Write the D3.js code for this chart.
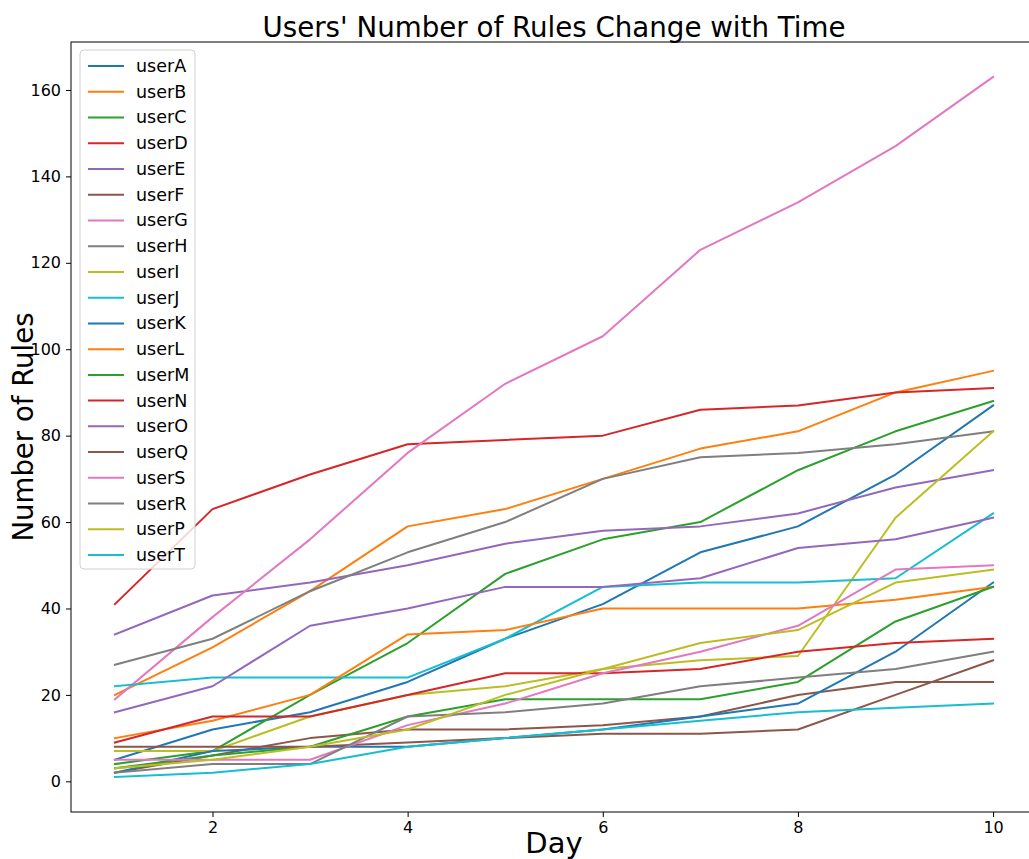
<!DOCTYPE html>
<html>
<head>
<meta charset="utf-8">
<script src="https://cdn.jsdelivr.net/npm/d3@7"></script>
<style>
  html, body { margin: 0; padding: 0; background: #fff; }
  svg { display: block; font-family: "DejaVu Sans", sans-serif; }
</style>
</head>
<body>
<svg id="chart" width="1029" height="859"></svg>
<script>
// ---- data ----
const days = [1, 2, 3, 4, 5, 6, 7, 8, 9, 10];
const userNames = ["userA","userB","userC","userD","userE","userF","userG","userH","userI","userJ",
                   "userK","userL","userM","userN","userO","userQ","userS","userR","userP","userT"];
const userA = [5, 12, 16, 23, 33, 41, 53, 59, 71, 87];
const userB = [20, 31, 44, 59, 63, 70, 77, 81, 90, 95];
const userC = [4, 7, 20, 32, 48, 56, 60, 72, 81, 88];
const userD = [41, 63, 71, 78, 79, 80, 86, 87, 90, 91];
const userE = [34, 43, 46, 50, 55, 58, 59, 62, 68, 72];
const userF = [2, 6, 10, 12, 12, 13, 15, 20, 23, 23];
const userG = [19, 38, 56, 76, 92, 103, 123, 134, 147, 163];
const userH = [27, 33, 44, 53, 60, 70, 75, 76, 78, 81];
const userI = [7, 7, 15, 20, 22, 26, 28, 29, 61, 81];
const userJ = [22, 24, 24, 24, 33, 45, 46, 46, 47, 62];
const userK = [2, 7, 8, 8, 10, 12, 15, 18, 30, 46];
const userL = [10, 14, 20, 34, 35, 40, 40, 40, 42, 45];
const userM = [3, 6, 8, 15, 19, 19, 19, 23, 37, 45];
const userN = [9, 15, 15, 20, 25, 25, 26, 30, 32, 33];
const userO = [16, 22, 36, 40, 45, 45, 47, 54, 56, 61];
const userQ = [8, 8, 8, 9, 10, 11, 11, 12, 20, 28];
const userS = [5, 5, 5, 13, 18, 25, 30, 36, 49, 50];
const userR = [2, 4, 4, 15, 16, 18, 22, 24, 26, 30];
const userP = [3, 5, 8, 12, 20, 26, 32, 35, 46, 49];
const userT = [1, 2, 4, 8, 10, 12, 14, 16, 17, 18];
const seriesValues = [userA,userB,userC,userD,userE,userF,userG,userH,userI,userJ,
                      userK,userL,userM,userN,userO,userQ,userS,userR,userP,userT];
const xTicks = [2, 4, 6, 8, 10];
const yTicks = [0, 20, 40, 60, 80, 100, 120, 140, 160];
const titleText = "Users' Number of Rules Change with Time";
const xLabel = "Day";
const yLabel = "Number of Rules";

// ---- layout ----
const palette = ["#1f77b4","#ff7f0e","#2ca02c","#d62728","#9467bd","#8c564b","#e377c2","#7f7f7f","#bcbd22","#17becf"];
const plot = { left: 71, top: 42, right: 1037, bottom: 812 };

const svg = d3.select("#chart");

const x = d3.scaleLinear().domain([0.55, 10.45]).range([plot.left, plot.right]);
const y = d3.scaleLinear().domain([-7.1, 171.1]).range([plot.bottom, plot.top]);

// lines
const line = d3.line().x((d, i) => x(days[i])).y(d => y(d));
const g = svg.append("g");
seriesValues.forEach((vals, k) => {
  g.append("path")
    .datum(vals)
    .attr("d", line)
    .attr("fill", "none")
    .attr("stroke", palette[k % 10])
    .attr("stroke-width", 2)
    .attr("stroke-linejoin", "round")
    .attr("stroke-linecap", "square");
});

// axes
const xAxis = svg.append("g")
  .attr("transform", `translate(0,${plot.bottom})`)
  .call(d3.axisBottom(x).tickValues(xTicks).tickSize(5).tickPadding(5).tickFormat(d3.format("d")));
const yAxis = svg.append("g")
  .attr("transform", `translate(${plot.left},0)`)
  .call(d3.axisLeft(y).tickValues(yTicks).tickSize(5).tickPadding(5).tickFormat(d3.format("d")));
[xAxis, yAxis].forEach(a => {
  a.select(".domain").remove();
  a.selectAll(".tick line").attr("stroke", "#000").attr("stroke-width", 1);
  a.selectAll(".tick text").attr("font-family", "DejaVu Sans, sans-serif").attr("font-size", 16).attr("fill", "#000");
});

// spines
svg.append("rect")
  .attr("x", plot.left).attr("y", plot.top)
  .attr("width", plot.right - plot.left).attr("height", plot.bottom - plot.top)
  .attr("fill", "none").attr("stroke", "#000").attr("stroke-width", 1);

// title and labels
svg.append("text").attr("x", 554).attr("y", 37)
  .attr("text-anchor", "middle").attr("font-size", 29).attr("fill", "#000")
  .attr("textLength", 583).attr("lengthAdjust", "spacingAndGlyphs")
  .text(titleText);
svg.append("text").attr("x", 554).attr("y", 853)
  .attr("text-anchor", "middle").attr("font-size", 29).attr("fill", "#000")
  .text(xLabel);
svg.append("text")
  .attr("transform", `translate(33,${(plot.top + plot.bottom) / 2}) rotate(-90)`)
  .attr("text-anchor", "middle").attr("font-size", 29).attr("fill", "#000")
  .attr("textLength", 229).attr("lengthAdjust", "spacingAndGlyphs")
  .text(yLabel);

// legend
const leg = svg.append("g");
const legX = 80, legY = 50, rowH = 25.74;
leg.append("rect")
  .attr("x", legX).attr("y", legY).attr("width", 115).attr("height", 519)
  .attr("rx", 4).attr("fill", "#fff").attr("fill-opacity", 0.8)
  .attr("stroke", "#d0d0d0").attr("stroke-width", 1);
userNames.forEach((name, k) => {
  const yy = 66 + k * rowH;
  leg.append("line").attr("x1", 88).attr("x2", 124).attr("y1", yy).attr("y2", yy)
    .attr("stroke", palette[k % 10]).attr("stroke-width", 2);
  leg.append("text").attr("x", 136).attr("y", yy + 6)
    .attr("font-size", 17.5).attr("fill", "#000").text(name);
});
</script>
</body>
</html>
